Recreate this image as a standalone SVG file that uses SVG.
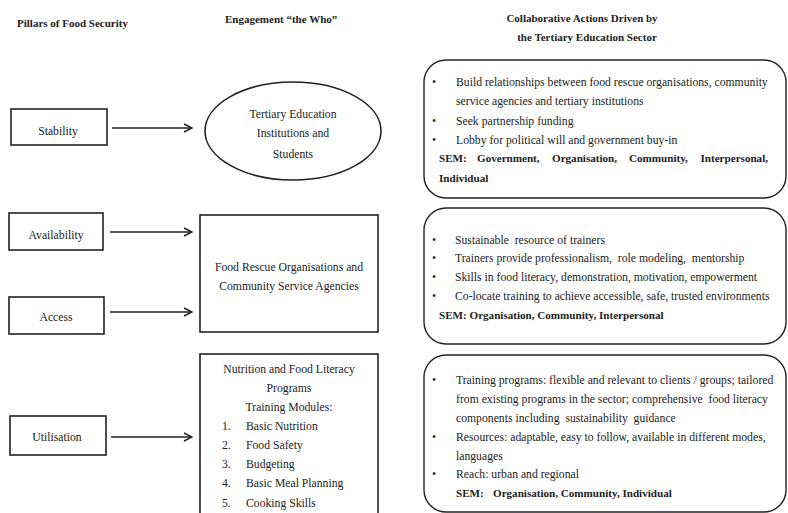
<svg xmlns="http://www.w3.org/2000/svg" width="788" height="513" viewBox="0 0 788 513">
<defs>
<style>
text{font-family:"Liberation Serif","Times New Roman",serif;font-size:11.7px;fill:#222}
.h{font-weight:bold;font-size:11px}
.b{font-weight:bold;font-size:11.1px}
.c{text-anchor:middle}
.box{fill:#fff;stroke:#222;stroke-width:1.6}
.rb{fill:#fff;stroke:#222;stroke-width:1.4}
.con{stroke:#222;stroke-width:1.4;fill:none}
</style>
<marker id="arr" viewBox="0 0 10 10" refX="9" refY="5" markerWidth="10" markerHeight="10" markerUnits="userSpaceOnUse" orient="auto">
<path d="M1,1 L9,5 L1,9" fill="none" stroke="#222" stroke-width="1.4"/>
</marker>
</defs>
<rect width="788" height="513" fill="#fff"/>
<g id="headers">
<text class="h" x="17" y="27">Pillars of Food Security</text>
<text class="h" x="225" y="23">Engagement “the Who”</text>
<text class="h c" x="582" y="22">Collaborative Actions Driven by</text>
<text class="h c" x="587" y="41">the Tertiary Education Sector</text>
</g>
<g id="connectors">
<line class="con" x1="112" y1="128" x2="192" y2="128" marker-end="url(#arr)"/>
<line class="con" x1="110" y1="232" x2="192" y2="232" marker-end="url(#arr)"/>
<line class="con" x1="110" y1="312" x2="192" y2="312" marker-end="url(#arr)"/>
<line class="con" x1="111" y1="437" x2="192" y2="437" marker-end="url(#arr)"/>
</g>
<g id="stability"><rect class="box" x="11" y="109" width="96" height="36"/><text class="c" x="58" y="135">Stability</text></g>
<g id="availability"><rect class="box" x="9" y="213" width="94" height="37"/><text class="c" x="56" y="239">Availability</text></g>
<g id="access"><rect class="box" x="9" y="297" width="95" height="37"/><text class="c" x="56" y="321">Access</text></g>
<g id="utilisation"><rect class="box" x="10" y="416" width="96" height="39"/><text class="c" x="57" y="441">Utilisation</text></g>
<g id="tertiary"><ellipse class="box" cx="293" cy="131" rx="88" ry="49"/>
<text class="c" x="293" y="118">Tertiary Education</text>
<text class="c" x="293" y="137">Institutions and</text>
<text class="c" x="293" y="158">Students</text></g>
<g id="foodrescue"><rect class="box" x="200" y="215" width="178" height="117"/>
<text class="c" x="289" y="271">Food Rescue Organisations and</text>
<text class="c" x="289" y="290">Community Service Agencies</text></g>
<g id="programs"><rect class="box" x="200" y="354" width="178" height="170"/>
<text class="c" x="289" y="373">Nutrition and Food Literacy</text>
<text class="c" x="289" y="392">Programs</text>
<text class="c" x="289" y="411">Training Modules:</text>
<text x="222" y="430">1.</text><text x="246" y="430">Basic Nutrition</text>
<text x="222" y="449">2.</text><text x="246" y="449">Food Safety</text>
<text x="222" y="468">3.</text><text x="246" y="468">Budgeting</text>
<text x="222" y="487">4.</text><text x="246" y="487">Basic Meal Planning</text>
<text x="222" y="507">5.</text><text x="246" y="507">Cooking Skills</text></g>
<g id="actions1"><rect class="rb" x="424" y="60" width="362" height="138" rx="22"/>
<text x="432" y="86">•</text><text x="456" y="86">Build relationships between food rescue organisations, community</text>
<text x="456" y="105">service agencies and tertiary institutions</text>
<text x="432" y="125">•</text><text x="456" y="125">Seek partnership funding</text>
<text x="432" y="144">•</text><text x="456" y="144">Lobby for political will and government buy-in</text>
<text class="b" x="439" y="162">SEM:</text><text class="b" x="477" y="162">Government,</text><text class="b" x="552" y="162">Organisation,</text><text class="b" x="629" y="162">Community,</text><text class="b" x="768" y="162" text-anchor="end">Interpersonal,</text>
<text class="b" x="439" y="182">Individual</text></g>
<g id="actions2"><rect class="rb" x="424" y="208" width="362" height="136" rx="22"/>
<text x="432" y="244">•</text><text x="455" y="244" xml:space="preserve">Sustainable  resource of trainers</text>
<text x="432" y="262">•</text><text x="455" y="262" xml:space="preserve">Trainers provide professionalism,  role modeling,  mentorship</text>
<text x="432" y="281">•</text><text x="455" y="281">Skills in food literacy, demonstration, motivation, empowerment</text>
<text x="432" y="300">•</text><text x="455" y="300">Co-locate training to achieve accessible, safe, trusted environments</text>
<text class="b" x="439" y="319">SEM: Organisation, Community, Interpersonal</text></g>
<g id="actions3"><rect class="rb" x="424" y="355" width="362" height="157" rx="22"/>
<text x="432" y="384">•</text><text x="456" y="384">Training programs: flexible and relevant to clients / groups; tailored</text>
<text x="456" y="403" xml:space="preserve">from existing programs in the sector; comprehensive  food literacy</text>
<text x="456" y="422" xml:space="preserve">components including  sustainability  guidance</text>
<text x="432" y="441">•</text><text x="456" y="441">Resources: adaptable, easy to follow, available in different modes,</text>
<text x="456" y="460">languages</text>
<text x="432" y="478">•</text><text x="456" y="478">Reach: urban and regional</text>
<text class="b" x="456" y="497">SEM:</text><text class="b" x="493" y="497">Organisation, Community, Individual</text></g>
</svg>
